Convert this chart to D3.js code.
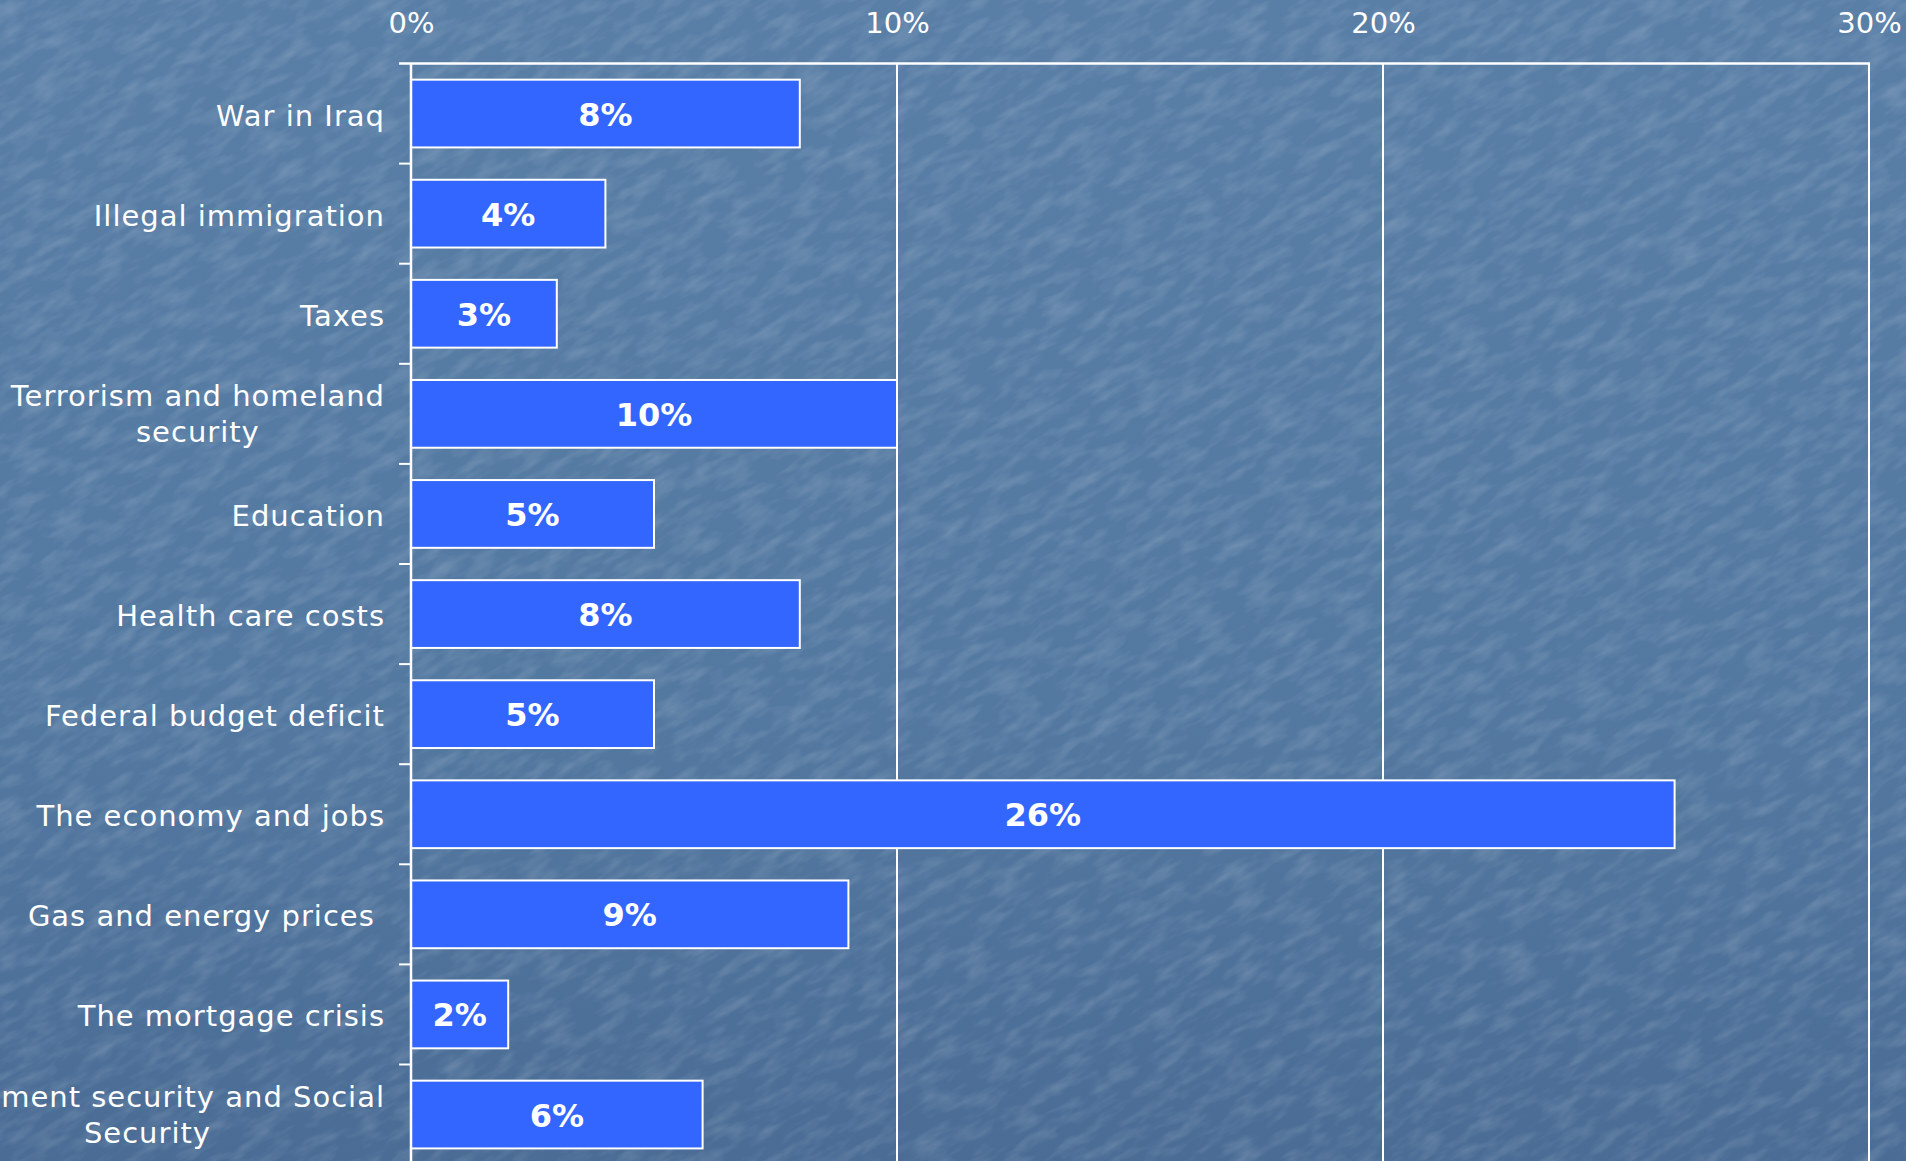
<!DOCTYPE html>
<html>
<head>
<meta charset="utf-8">
<script src="https://cdn.jsdelivr.net/npm/d3@7"></script>
<style>
  html, body { margin: 0; padding: 0; overflow: hidden; background: #557aa2; }
  svg { display: block; }
  text { font-family: "DejaVu Sans", sans-serif; fill: #ffffff; }
</style>
</head>
<body>
<svg id="chart" width="1906" height="1161"></svg>
<script>
// ---- data ----
const categories = [
  "War in Iraq",
  "Illegal immigration",
  "Taxes",
  "Terrorism and homeland\nsecurity",
  "Education",
  "Health care costs",
  "Federal budget deficit",
  "The economy and jobs",
  "Gas and energy prices ",
  "The mortgage crisis",
  "Retirement security and Social\nSecurity"
];
const values = [8, 4, 3, 10, 5, 8, 5, 26, 9, 2, 6];
const xTicks = [0, 10, 20, 30];
const xTickLabels = ["0%", "10%", "20%", "30%"];

(function () {
// ---- layout ----
const W = 1906, H = 1161;
const pLeft = 411, pRight = 1869, pTop = 63.5;
const step = 100.1;
const pBottom = pTop + step * categories.length;

const svg = d3.select("#chart");
const defs = svg.append("defs");

const grad = defs.append("linearGradient").attr("id", "bg").attr("x1", 0).attr("y1", 0).attr("x2", 0).attr("y2", 1);
grad.append("stop").attr("offset", "0%").attr("stop-color", "#5a7fa7");
grad.append("stop").attr("offset", "60%").attr("stop-color", "#5479a1");
grad.append("stop").attr("offset", "100%").attr("stop-color", "#4a6c95");

const filt = defs.append("filter").attr("id", "tex").attr("x", 0).attr("y", 0).attr("width", 1).attr("height", 1);
filt.append("feTurbulence").attr("type", "fractalNoise").attr("baseFrequency", "0.03 0.09").attr("numOctaves", 3).attr("seed", 11).attr("result", "n");
filt.append("feColorMatrix").attr("in", "n").attr("type", "matrix")
  .attr("values", "0 0 0 0 1  0 0 0 0 1  0 0 0 0 1  0 0 0 1.5 -0.62");

svg.append("rect").attr("width", W).attr("height", H).attr("fill", "url(#bg)");
svg.append("g").attr("transform", `rotate(-30 ${W/2} ${H/2})`)
  .append("rect").attr("x", -700).attr("y", -700).attr("width", W + 1400).attr("height", H + 1400)
  .attr("filter", "url(#tex)").attr("opacity", 0.2);

const x = d3.scaleLinear().domain([0, 30]).range([pLeft, pRight]);
const y = d3.scaleBand().domain(categories).range([pTop, pBottom]).paddingInner(0.323).paddingOuter(0.1615);

// gridlines
svg.append("g").selectAll("line").data(xTicks.slice(1)).join("line")
  .attr("x1", d => x(d)).attr("x2", d => x(d))
  .attr("y1", pTop).attr("y2", H + 10)
  .attr("stroke", "#ffffff").attr("stroke-width", 2);

// top axis
const xAxis = d3.axisTop(x).tickValues(xTicks).tickFormat((d, i) => xTickLabels[i]).tickSize(0).tickPadding(0);
const gx = svg.append("g").attr("transform", `translate(0,${pTop})`).call(xAxis);
gx.select(".domain").remove();
gx.selectAll("text").attr("y", -31).attr("dy", 0).style("font-size", "29px").attr("fill", "#fff");
svg.append("line").attr("x1", pLeft - 12).attr("x2", pRight + 1).attr("y1", pTop).attr("y2", pTop)
  .attr("stroke", "#fff").attr("stroke-width", 2.5);

// bars
svg.append("g").selectAll("rect").data(values).join("rect")
  .attr("x", x(0))
  .attr("y", (d, i) => y(categories[i]))
  .attr("width", d => x(d) - x(0))
  .attr("height", y.bandwidth())
  .attr("fill", "#3366ff")
  .attr("stroke", "#ffffff").attr("stroke-width", 2);

// value labels
svg.append("g").selectAll("text").data(values).join("text")
  .attr("x", d => (x(0) + x(d)) / 2)
  .attr("y", (d, i) => y(categories[i]) + y.bandwidth() / 2 + 12)
  .attr("text-anchor", "middle")
  .style("font-size", "32px").style("font-weight", "bold")
  .text(d => d + "%");

// left axis + ticks at band boundaries
svg.append("line").attr("x1", pLeft).attr("x2", pLeft).attr("y1", pTop).attr("y2", H + 10)
  .attr("stroke", "#fff").attr("stroke-width", 2.5);
const bounds = d3.range(1, categories.length).map(i => pTop + i * y.step());
svg.append("g").selectAll("line").data(bounds).join("line")
  .attr("x1", pLeft - 12).attr("x2", pLeft).attr("y1", d => d).attr("y2", d => d)
  .attr("stroke", "#fff").attr("stroke-width", 2);

// category labels
const labelRight = 385;
const lg = svg.append("g");
categories.forEach((c, i) => {
  const lines = c.split("\n");
  const cy = y(c) + y.bandwidth() / 2;
  const t = lg.append("text")
    .style("font-size", "29px").style("letter-spacing", "1px").style("white-space", "pre");
  const spans = lines.map((ln, k) => t.append("tspan").text(ln));
  const widths = spans.map(s => s.node().getComputedTextLength());
  const maxW = d3.max(widths);
  if (lines.length === 1) {
    t.attr("text-anchor", "end");
    spans[0].attr("x", labelRight).attr("y", cy + 12);
  } else {
    t.attr("text-anchor", "middle");
    spans.forEach((s, k) => s.attr("x", labelRight - maxW / 2).attr("y", cy + 12 - 20 * (lines.length - 1) + 36 * k));
  }
});
})();
</script>
</body>
</html>
